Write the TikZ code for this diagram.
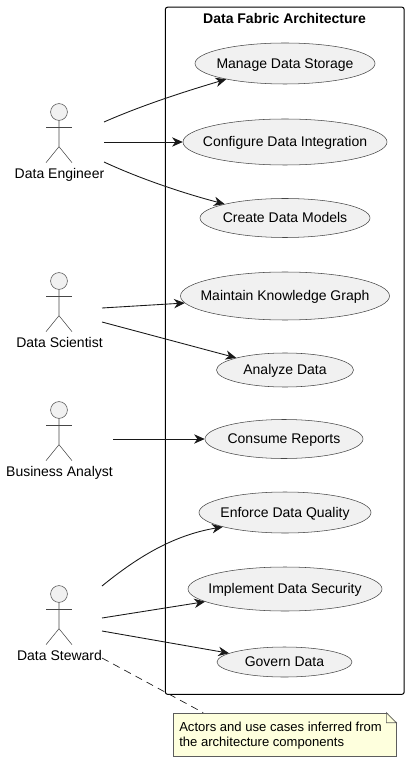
\documentclass[tikz,border=0pt]{standalone}
\usepackage{fontspec}
\setmainfont{Liberation Sans}
\usetikzlibrary{arrows.meta,shapes.geometric}

\definecolor{shapefill}{HTML}{F1F1F1}
\definecolor{shapeline}{HTML}{181818}
\definecolor{notefill}{HTML}{FEFFDD}

\tikzstyle{usecase} = [ellipse, draw=shapeline!80, fill=shapefill, line width=0.4pt, inner xsep=-30pt, inner ysep=-5pt, text height=6.8pt, text depth=0pt, font=\fontsize{10.5}{12}\selectfont]
\tikzstyle{head} = [circle, draw=shapeline!80, fill=shapefill, line width=0.4pt, minimum width=12.6pt, inner sep=0pt]
\tikzstyle{stick} = [draw=shapeline!80, line width=0.4pt]
\tikzstyle{bag} = [inner sep=0pt, text height=7pt, text depth=0pt, font=\fontsize{10.5}{12}\selectfont]
\tikzstyle{link} = [shapeline, line width=0.65pt, -{Stealth[length=8pt, width=7pt, inset=2.5pt]}]
\tikzstyle{notelink} = [shapeline, line width=0.5pt, dash pattern=on 5.5pt off 4pt]
\tikzstyle{notebox} = [draw=shapeline!70, fill=notefill, line width=0.5pt, minimum width=166.9pt, minimum height=32.25pt, inner sep=0pt]

\begin{document}
\begin{tikzpicture}[x=0.75pt, y=-0.75pt]
\useasboundingbox (0,0) rectangle (409,762);
%boundary
\node[draw=black, line width=0.75pt, rounded corners=1.5pt, minimum width=179pt, minimum height=515.25pt, inner sep=0pt] (fabric) at (284.75,350.75) {};
\node[bag, font=\fontsize{10.5}{12}\selectfont\bfseries] (fabrictitle) at (284.5,19) {Data Fabric Architecture};
%begin usecases
\node[usecase, minimum width=135pt, minimum height=30.75pt] (storage) at (285,63.5) {Manage Data Storage};
\node[usecase, minimum width=153pt, minimum height=34.5pt] (integration) at (285,142) {Configure Data Integration};
\node[usecase, minimum width=127.5pt, minimum height=29.25pt] (models) at (285,218) {Create Data Models};
\node[usecase, minimum width=156.75pt, minimum height=36pt] (graph) at (285,296) {Maintain Knowledge Graph};
\node[usecase, minimum width=102.75pt, minimum height=25.5pt] (analyze) at (285,370) {Analyze Data};
\node[usecase, minimum width=118.5pt, minimum height=29.25pt] (reports) at (284,439) {Consume Reports};
\node[usecase, minimum width=129pt, minimum height=30.75pt] (quality) at (285,512.5) {Enforce Data Quality};
\node[usecase, minimum width=145.5pt, minimum height=33pt] (security) at (285,589) {Implement Data Security};
\node[usecase, minimum width=101.25pt, minimum height=22.5pt] (govern) at (284.5,662) {Govern Data};
%end usecases
%begin actor-engineer
\node[head] (engineer) at (59,112) {};
\node[bag] (engineerlabel) at (59.5,173.5) {Data Engineer};
\draw[stick] (engineer.south) -- ++(0,26) -- ++(-13,16) ++(13,-16) -- ++(13,16);
\draw[stick] (engineer.center) ++(-13,15) -- ++(26,0);
%end actor-engineer
%begin actor-scientist
\node[head] (scientist) at (59,281) {};
\node[bag] (scientistlabel) at (59.5,343) {Data Scientist};
\draw[stick] (scientist.south) -- ++(0,26) -- ++(-13,16) ++(13,-16) -- ++(13,16);
\draw[stick] (scientist.center) ++(-13,15) -- ++(26,0);
%end actor-scientist
%begin actor-analyst
\node[head] (analyst) at (59,410) {};
\node[bag] (analystlabel) at (59.5,471.5) {Business Analyst};
\draw[stick] (analyst.south) -- ++(0,26) -- ++(-13,16) ++(13,-16) -- ++(13,16);
\draw[stick] (analyst.center) ++(-13,15) -- ++(26,0);
%end actor-analyst
%begin actor-steward
\node[head] (steward) at (59,594) {};
\node[bag] (stewardlabel) at (59.5,656) {Data Steward};
\draw[stick] (steward.south) -- ++(0,26) -- ++(-13,16) ++(13,-16) -- ++(13,16);
\draw[stick] (steward.center) ++(-13,15) -- ++(26,0);
%end actor-steward
%free ends
\coordinate (engineerA) at (104,122);
\coordinate (engineerB) at (104,142);
\coordinate (engineerC) at (104,162);
\coordinate (scientistA) at (102,308);
\coordinate (scientistB) at (102,322);
\coordinate (analystA) at (113,439);
\coordinate (stewardA) at (102,586);
\coordinate (stewardB) at (102,618);
\coordinate (stewardC) at (102,631);
\coordinate (stewardD) at (102,658);
%begin links
\draw[link] (engineerA) .. controls (145,104) and (190,90) .. (storage.195);
\draw[link] (engineerB) -- (integration.west);
\draw[link] (engineerC) .. controls (145,181) and (190,195) .. (models.167);
\draw[link] (scientistA) -- (graph.184);
\draw[link] (scientistB) -- (analyze.166);
\draw[link] (analystA) -- (reports.west);
\draw[link] (stewardA) .. controls (140,555) and (175,535) .. (quality.193);
\draw[link] (stewardB) -- (security.189);
\draw[link] (stewardC) -- (govern.171);
%end links
%begin note
\node[notebox] (note) at (284.75,734.5) {};
\node[bag, text height=, text depth=, font=\fontsize{9.8}{11.7}\selectfont, align=left, anchor=west] (notetext) at (179,735.5) {Actors and use cases inferred from\\the architecture components};
\fill[white] (note.north east) ++(-10,-1) -- ++(11,0) -- ++(0,11) -- cycle;
\draw[draw=shapeline!70, line width=0.5pt, fill=notefill] (note.north east) ++(-10,0) -- ++(0,10) -- ++(10,0) -- cycle;
\draw[notelink] (stewardD) -- (note.165);
%end note
\end{tikzpicture}
\end{document}
